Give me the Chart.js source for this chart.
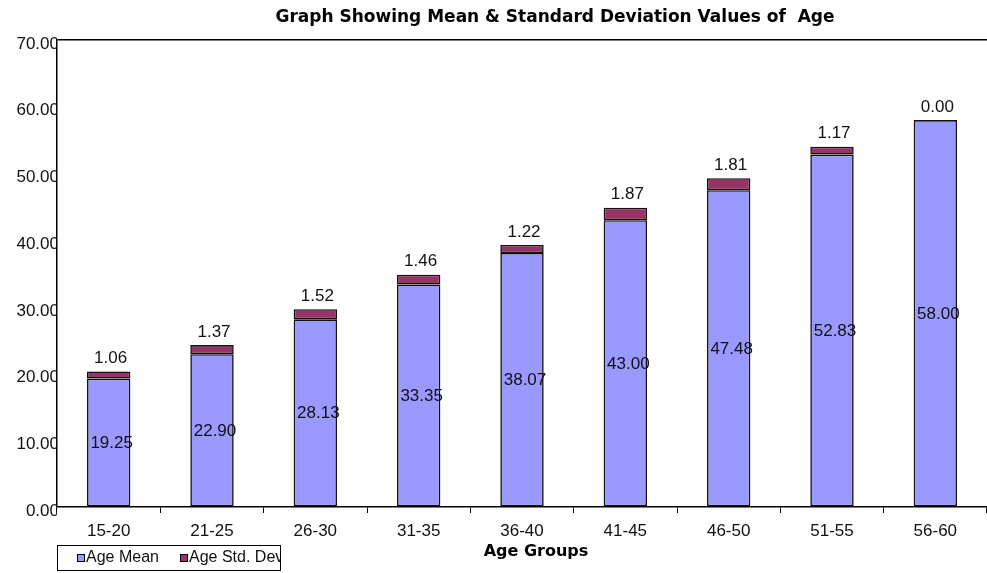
<!DOCTYPE html>
<html>
<head>
<meta charset="utf-8">
<title>Mean & Std Dev of Age</title>
<script src="https://cdn.jsdelivr.net/npm/chart.js@4.4.1/dist/chart.umd.min.js"></script>
<style>
  body { margin: 0; background: #fff; }
  #wrap { width: 987px; height: 573px; }
</style>
</head>
<body>
<div id="wrap"><canvas id="chart" width="987" height="573"></canvas></div>
<script>
// --- Data ---
const ageGroups = ['15-20', '21-25', '26-30', '31-35', '36-40', '41-45', '46-50', '51-55', '56-60'];
const ageMean = [19.25, 22.90, 28.13, 33.35, 38.07, 43.00, 47.48, 52.83, 58.00];
const ageStd = [1.06, 1.37, 1.52, 1.46, 1.22, 1.87, 1.81, 1.17, 0.00];
const yTicks = [0, 10, 20, 30, 40, 50, 60, 70];

const MEAN_COLOR = '#9999ff';
const STD_COLOR = '#993366';
const FONT = "'Liberation Sans', Arial, sans-serif";

// value labels, title, axis title and legend box
const extrasPlugin = {
  id: 'extras',
  afterDatasetsDraw(chart) {
    const ctx = chart.ctx;
    const meanMeta = chart.getDatasetMeta(0);
    const stdMeta = chart.getDatasetMeta(1);
    ctx.save();
    ctx.font = '17px ' + FONT;
    ctx.fillStyle = '#111';
    ctx.textAlign = 'center';
    ctx.textBaseline = 'middle';
    meanMeta.data.forEach((bar, i) => {
      const mid = (bar.y + bar.base) / 2;
      ctx.fillText(ageMean[i].toFixed(2), bar.x + 3, mid + 1);
    });
    stdMeta.data.forEach((bar, i) => {
      ctx.fillText(ageStd[i].toFixed(2), bar.x + 2, bar.y - 13);
    });
    ctx.restore();
  },
  afterDraw(chart) {
    const ctx = chart.ctx;
    ctx.save();
    // title
    ctx.fillStyle = '#000';
    ctx.textAlign = 'center';
    ctx.textBaseline = 'middle';
    ctx.font = "bold 17px 'DejaVu Sans', sans-serif";
    ctx.fillText('Graph Showing Mean & Standard Deviation Values of  Age', 555, 18);
    // x axis title
    ctx.font = "bold 16px 'DejaVu Sans', sans-serif";
    ctx.fillText('Age Groups', 536, 552);

    // legend
    const lx = 57, ly = 545, lw = 223, lh = 25;
    ctx.fillStyle = '#fff';
    ctx.fillRect(lx, ly, lw, lh);
    ctx.strokeStyle = '#000';
    ctx.lineWidth = 1;
    ctx.strokeRect(lx + 0.5, ly + 0.5, lw, lh);
    ctx.beginPath();
    ctx.rect(lx + 1, ly + 1, lw - 1, lh - 1);
    ctx.clip();
    const items = [
      { text: 'Age Mean', color: MEAN_COLOR, x: 77 },
      { text: 'Age Std. Dev', color: STD_COLOR, x: 180 }
    ];
    ctx.font = '16px ' + FONT;
    ctx.textAlign = 'left';
    items.forEach(it => {
      ctx.fillStyle = it.color;
      ctx.fillRect(it.x, ly + 9, 7, 7);
      ctx.strokeStyle = '#000';
      ctx.strokeRect(it.x + 0.5, ly + 9.5, 7, 7);
      ctx.fillStyle = '#111';
      ctx.fillText(it.text, it.x + 9, ly + 13);
    });
    ctx.restore();
  }
};

new Chart(document.getElementById('chart'), {
  type: 'bar',
  data: {
    labels: ageGroups,
    datasets: [
      {
        label: 'Age Mean',
        data: ageMean,
        backgroundColor: MEAN_COLOR,
        borderColor: '#111',
        borderWidth: 1.6,
        borderSkipped: false,
        barPercentage: 0.42,
        categoryPercentage: 1
      },
      {
        label: 'Age Std. Dev',
        data: ageStd,
        backgroundColor: STD_COLOR,
        borderColor: '#111',
        borderWidth: 1.6,
        borderSkipped: false,
        barPercentage: 0.42,
        categoryPercentage: 1
      }
    ]
  },
  options: {
    responsive: false,
    animation: false,
    layout: { padding: { top: 40, left: 0, right: 0, bottom: 0 } },
    plugins: {
      legend: { display: false },
      title: { display: false },
      tooltip: { enabled: false }
    },
    scales: {
      x: {
        stacked: true,
        grid: {
          drawOnChartArea: false,
          drawTicks: true,
          tickLength: 6,
          color: '#000'
        },
        border: { display: true, color: '#000', width: 1.5 },
        ticks: { color: '#111', font: { family: FONT, size: 17 }, padding: 8 },
        afterFit(scale) { scale.height = 66; }
      },
      y: {
        stacked: true,
        min: 0,
        max: 70,
        afterBuildTicks(scale) { scale.ticks = yTicks.map(v => ({ value: v })); },
        grid: {
          drawTicks: false,
          color: ctx => (ctx.tick && ctx.tick.value === 70 ? '#000' : 'rgba(0,0,0,0)'),
          lineWidth: 1.5
        },
        border: { display: true, color: '#000', width: 1.5 },
        ticks: {
          color: '#111',
          font: { family: FONT, size: 17 },
          padding: -2,
          labelOffset: 4,
          callback: v => Number(v).toFixed(2)
        },
        afterFit(scale) { scale.width = 57; }
      }
    }
  },
  plugins: [extrasPlugin]
});
</script>
</body>
</html>
